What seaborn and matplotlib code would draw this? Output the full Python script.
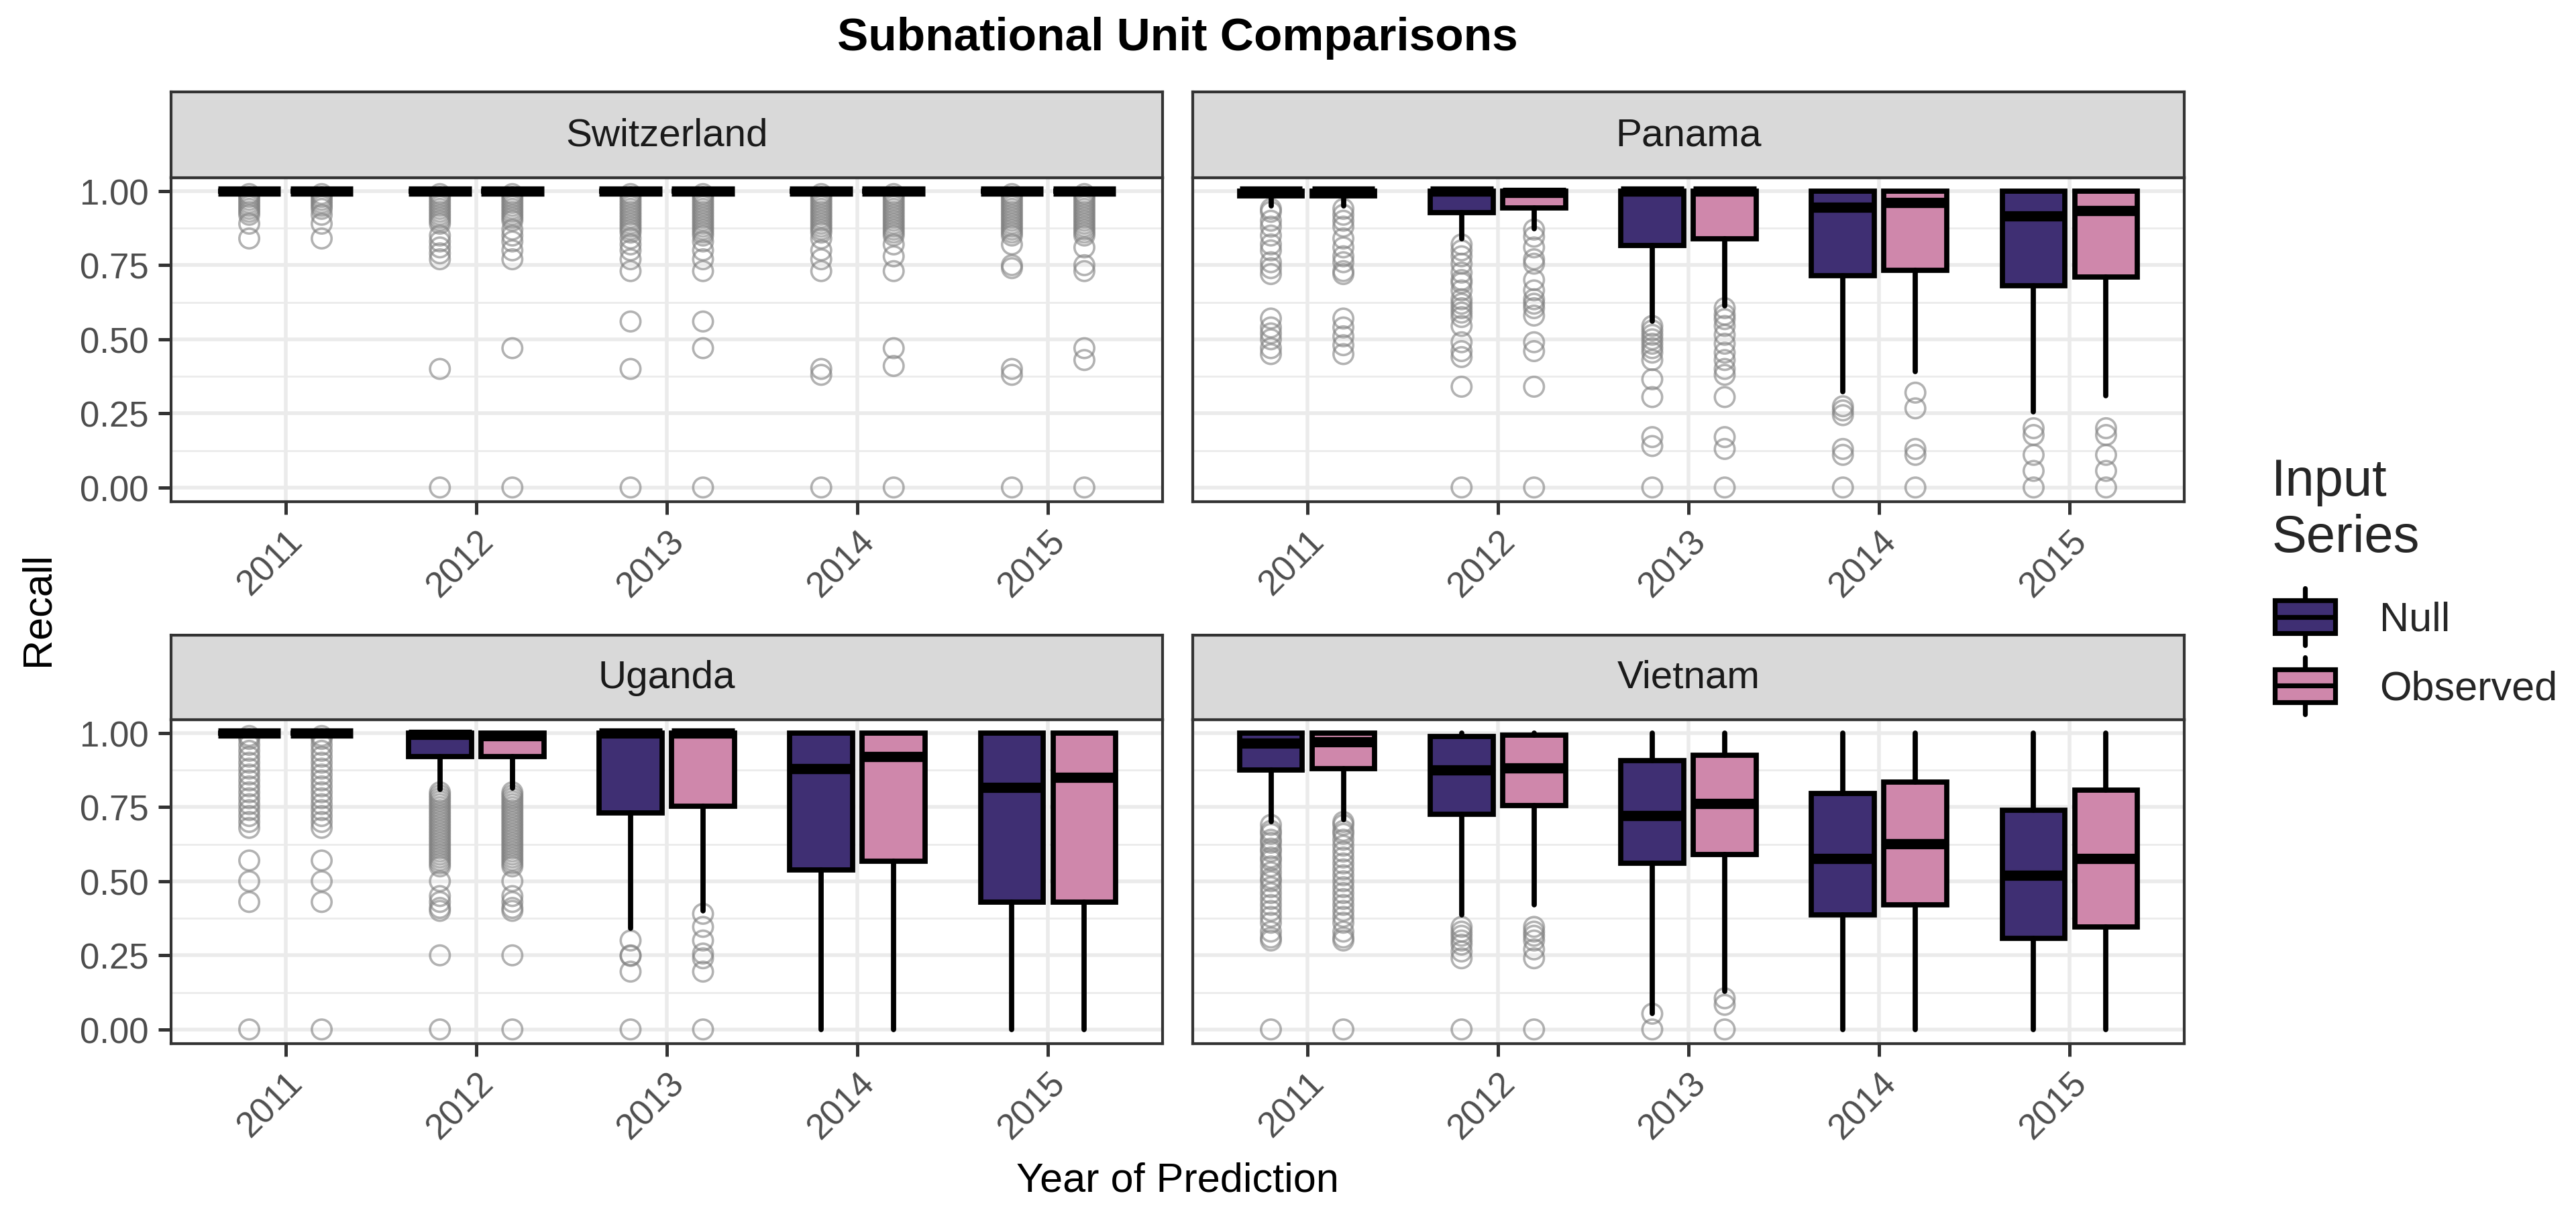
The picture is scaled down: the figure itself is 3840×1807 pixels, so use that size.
import matplotlib
matplotlib.use("Agg")
import matplotlib.pyplot as plt
import numpy as np
import pandas as pd
import seaborn as sns
from matplotlib.legend_handler import HandlerBase
from matplotlib.lines import Line2D
from matplotlib.patches import Patch, Rectangle

years = ["2011", "2012", "2013", "2014", "2015"]
countries = ["Switzerland", "Panama", "Uganda", "Vietnam"]
series = ["Null", "Observed"]
colors = {"Null": "#3F2F73", "Observed": "#CF87AB"}

# box summaries: lower whisker, q1, median, q3, upper whisker
swi_null = dict(lo=[1, 1, 1, 1, 1], q1=[1, 1, 1, 1, 1], med=[1, 1, 1, 1, 1],
                q3=[1, 1, 1, 1, 1], hi=[1, 1, 1, 1, 1])
swi_obs = dict(lo=[1, 1, 1, 1, 1], q1=[1, 1, 1, 1, 1], med=[1, 1, 1, 1, 1],
               q3=[1, 1, 1, 1, 1], hi=[1, 1, 1, 1, 1])
pan_null = dict(lo=[0.951, 0.838, 0.56, 0.323, 0.256], q1=[0.985, 0.928, 0.816, 0.714, 0.68],
                med=[1.0, 1.0, 1.0, 0.945, 0.915], q3=[1, 1, 1, 1, 1], hi=[1, 1, 1, 1, 1])
pan_obs = dict(lo=[0.951, 0.872, 0.613, 0.39, 0.31], q1=[0.985, 0.944, 0.838, 0.733, 0.71],
               med=[1.0, 0.995, 1.0, 0.962, 0.934], q3=[1, 1, 1, 1, 1], hi=[1, 1, 1, 1, 1])
uga_null = dict(lo=[1.0, 0.81, 0.342, 0.0, 0.0], q1=[1.0, 0.92, 0.73, 0.538, 0.43],
                med=[1.0, 0.995, 1.0, 0.88, 0.816], q3=[1, 1, 1, 1, 1], hi=[1, 1, 1, 1, 1])
uga_obs = dict(lo=[1.0, 0.815, 0.40, 0.0, 0.0], q1=[1.0, 0.92, 0.752, 0.568, 0.43],
               med=[1.0, 0.99, 1.0, 0.92, 0.85], q3=[1, 1, 1, 1, 1], hi=[1, 1, 1, 1, 1])
vie_null = dict(lo=[0.70, 0.387, 0.053, 0.0, 0.0], q1=[0.876, 0.725, 0.56, 0.387, 0.308],
                med=[0.966, 0.875, 0.722, 0.577, 0.519], q3=[1.0, 0.989, 0.908, 0.797, 0.74],
                hi=[1, 1, 1, 1, 1])
vie_obs = dict(lo=[0.707, 0.42, 0.128, 0.0, 0.0], q1=[0.88, 0.755, 0.59, 0.42, 0.346],
               med=[0.97, 0.883, 0.763, 0.626, 0.577], q3=[1.0, 0.992, 0.925, 0.835, 0.808],
               hi=[1, 1, 1, 1, 1])

dense = [0.99, 0.98, 0.97, 0.96, 0.95, 0.94, 0.93, 0.92, 0.91, 0.90, 0.89, 0.88, 0.87, 0.86]

# outliers per year
swi_null_out = [
    [0.99, 0.98, 0.97, 0.96, 0.95, 0.94, 0.93, 0.92, 0.89, 0.84],
    dense[:11] + [0.85, 0.83, 0.81, 0.79, 0.77, 0.40, 0.0],
    dense + [0.84, 0.82, 0.80, 0.77, 0.73, 0.56, 0.40, 0.0],
    dense + [0.84, 0.80, 0.77, 0.73, 0.40, 0.38, 0.0],
    dense + [0.85, 0.82, 0.75, 0.74, 0.40, 0.38, 0.0],
]
swi_obs_out = [
    [0.99, 0.98, 0.97, 0.96, 0.95, 0.94, 0.92, 0.89, 0.84],
    dense[:10] + [0.87, 0.85, 0.83, 0.80, 0.77, 0.47, 0.0],
    dense + [0.85, 0.83, 0.80, 0.77, 0.73, 0.56, 0.47, 0.0],
    dense + [0.85, 0.82, 0.78, 0.73, 0.47, 0.41, 0.0],
    dense + [0.85, 0.81, 0.75, 0.73, 0.47, 0.43, 0.0],
]
pan_null_out = [
    [0.94, 0.93, 0.90, 0.88, 0.85, 0.82, 0.80, 0.76, 0.74, 0.72, 0.57, 0.54, 0.52, 0.50, 0.47, 0.45],
    [0.82, 0.80, 0.78, 0.755, 0.725, 0.70, 0.69, 0.665, 0.635, 0.62, 0.605, 0.59, 0.575, 0.545,
     0.49, 0.46, 0.44, 0.34, 0.0],
    [0.545, 0.53, 0.515, 0.50, 0.485, 0.47, 0.455, 0.43, 0.365, 0.305, 0.17, 0.14, 0.0],
    [0.274, 0.26, 0.244, 0.13, 0.11, 0.0],
    [0.2, 0.177, 0.11, 0.056, 0.0],
]
pan_obs_out = [
    [0.94, 0.92, 0.90, 0.88, 0.84, 0.81, 0.78, 0.76, 0.73, 0.72, 0.57, 0.54, 0.51, 0.48, 0.45],
    [0.87, 0.846, 0.81, 0.77, 0.755, 0.70, 0.665, 0.635, 0.62, 0.605, 0.58, 0.49, 0.46, 0.34, 0.0],
    [0.605, 0.583, 0.568, 0.545, 0.515, 0.485, 0.455, 0.43, 0.40, 0.38, 0.305, 0.17, 0.13, 0.0],
    [0.32, 0.267, 0.13, 0.11, 0.0],
    [0.2, 0.177, 0.11, 0.056, 0.0],
]
uga_2011 = [0.99, 0.98, 0.96, 0.94, 0.92, 0.90, 0.88, 0.86, 0.84, 0.82, 0.80, 0.78, 0.76,
            0.74, 0.72, 0.70, 0.68, 0.57, 0.50, 0.43, 0.0]
uga_2012 = [0.80, 0.79, 0.78, 0.77, 0.76, 0.75, 0.74, 0.73, 0.72, 0.71, 0.70, 0.69, 0.68, 0.67,
            0.66, 0.65, 0.64, 0.63, 0.62, 0.61, 0.60, 0.59, 0.58, 0.57, 0.56, 0.55, 0.50, 0.45,
            0.43, 0.41, 0.40, 0.25, 0.0]
uga_null_out = [uga_2011, uga_2012, [0.30, 0.25, 0.248, 0.195, 0.0], [], []]
uga_obs_out = [uga_2011, uga_2012, [0.39, 0.346, 0.30, 0.256, 0.24, 0.195, 0.0], [], []]
vie_null_out = [
    [0.69, 0.67, 0.66, 0.64, 0.63, 0.61, 0.60, 0.58, 0.57, 0.55, 0.53, 0.51, 0.50, 0.48, 0.46,
     0.44, 0.42, 0.40, 0.38, 0.36, 0.33, 0.31, 0.30, 0.0],
    [0.346, 0.33, 0.316, 0.30, 0.286, 0.263, 0.24, 0.0],
    [0.053, 0.0],
    [], [],
]
vie_obs_out = [
    [0.70, 0.69, 0.67, 0.66, 0.64, 0.62, 0.60, 0.58, 0.56, 0.54, 0.52, 0.50, 0.48, 0.46, 0.44,
     0.42, 0.40, 0.38, 0.36, 0.33, 0.31, 0.30, 0.0],
    [0.346, 0.33, 0.316, 0.30, 0.27, 0.24, 0.0],
    [0.105, 0.083, 0.0],
    [], [],
]

boxes = {"Switzerland": (swi_null, swi_obs), "Panama": (pan_null, pan_obs),
         "Uganda": (uga_null, uga_obs), "Vietnam": (vie_null, vie_obs)}
outs = {"Switzerland": (swi_null_out, swi_obs_out), "Panama": (pan_null_out, pan_obs_out),
        "Uganda": (uga_null_out, uga_obs_out), "Vietnam": (vie_null_out, vie_obs_out)}

sns.set_theme(style="white")
plt.rcParams["font.family"] = ["Liberation Sans", "DejaVu Sans"]

W, H = 3840, 1808


def rect(l, t, r, b):
    return [l / W, 1 - b / H, (r - l) / W, (b - t) / H]


panel_px = [(255, 266, 1733, 749), (1778, 266, 3256, 749),
            (255, 1074, 1733, 1557), (1778, 1074, 3256, 1557)]
strip_px = [(255, 138, 1733, 266), (1778, 138, 3256, 266),
            (255, 948, 1733, 1074), (1778, 948, 3256, 1074)]

fig = plt.figure(figsize=(W / 200, H / 200), dpi=200)
fig.patch.set_facecolor("white")

offsets = {"Null": -0.19, "Observed": 0.19}
xpos = np.arange(1, len(years) + 1)

for k, country in enumerate(countries):
    ax = fig.add_axes(rect(*panel_px[k]))
    ax.set_facecolor("white")
    for s, stats_src, out_src in zip(series, boxes[country], outs[country]):
        stats = [dict(whislo=stats_src["lo"][i], q1=stats_src["q1"][i], med=stats_src["med"][i],
                      q3=stats_src["q3"][i], whishi=stats_src["hi"][i], fliers=[])
                 for i in range(len(years))]
        ax.bxp(stats, positions=xpos + offsets[s], widths=0.33, patch_artist=True,
               showcaps=False, showfliers=False, manage_ticks=False,
               boxprops=dict(facecolor=colors[s], edgecolor="black", linewidth=2.8),
               medianprops=dict(color="black", linewidth=5.5, solid_capstyle="butt"),
               whiskerprops=dict(color="black", linewidth=2.8), zorder=3)
        px, py = [], []
        for i, vals in enumerate(out_src):
            px += [xpos[i] + offsets[s]] * len(vals)
            py += vals
        pts = pd.DataFrame({"x": px, "y": py})
        sns.scatterplot(data=pts, x="x", y="y", ax=ax, marker="o", s=112,
                        facecolor="none", edgecolor=(0.5, 0.5, 0.5, 0.6),
                        linewidth=1.3, legend=False, zorder=2)
    ax.set_xlim(0.4, 5.6)
    ax.set_ylim(-0.048, 1.045)
    ax.set_xticks(xpos)
    ax.set_xticklabels(years, rotation=45, ha="right", va="top", rotation_mode="anchor")
    ax.set_yticks([0, 0.25, 0.5, 0.75, 1.0])
    ax.set_yticklabels(["0.00", "0.25", "0.50", "0.75", "1.00"])
    ax.set_yticks([0.125, 0.375, 0.625, 0.875], minor=True)
    ax.set_axisbelow(True)
    ax.grid(which="major", color="#EBEBEB", linewidth=2.0)
    ax.grid(which="minor", axis="y", color="#EBEBEB", linewidth=1.0)
    ax.set_xlabel("")
    ax.set_ylabel("")
    for sp in ax.spines.values():
        sp.set_color("#333333")
        sp.set_linewidth(1.5)
    ax.tick_params(axis="both", which="major", direction="out", length=7, width=1.8,
                   color="#333333", labelcolor="#4D4D4D", labelsize=19, pad=5,
                   bottom=True, left=(k % 2 == 0), labelleft=(k % 2 == 0))
    ax.tick_params(which="minor", left=False, bottom=False)

    sax = fig.add_axes(rect(*strip_px[k]))
    sax.set_facecolor("#D9D9D9")
    sax.set_xticks([])
    sax.set_yticks([])
    for sp in sax.spines.values():
        sp.set_color("#333333")
        sp.set_linewidth(1.5)
    sax.text(0.5, 0.5, country, transform=sax.transAxes, ha="center", va="center",
             fontsize=21, color="#1A1A1A")

fig.text(1755 / W, 1 - 57 / H, "Subnational Unit Comparisons", ha="center", va="center",
         fontsize=25, fontweight="bold", color="black")
fig.text(1755 / W, 1 - 1777 / H, "Year of Prediction", ha="center", va="baseline",
         fontsize=22, color="black")
fig.text(57 / W, 1 - 908 / H, "Recall", ha="center", va="center", rotation=90,
         fontsize=22, color="black")


class BoxKey(HandlerBase):
    def create_artists(self, legend, orig, xdescent, ydescent, width, height, fontsize, trans):
        x0, y0 = -xdescent, -ydescent
        cx = x0 + width / 2
        blo, bhi = y0 + 0.21 * height, y0 + 0.79 * height
        wlo = Line2D([cx, cx], [y0, blo], color="black", lw=2.6, transform=trans)
        whi = Line2D([cx, cx], [bhi, y0 + height], color="black", lw=2.6, transform=trans)
        box = Rectangle((x0 + 0.05 * width, blo), 0.9 * width, bhi - blo,
                        facecolor=orig.get_facecolor(), edgecolor="black", lw=2.6,
                        transform=trans)
        med = Line2D([x0 + 0.05 * width, x0 + 0.95 * width], [y0 + height / 2] * 2,
                     color="black", lw=2.6, transform=trans)
        return [wlo, whi, box, med]


handles = [Patch(facecolor=colors[s], label=s) for s in series]
leg = fig.legend(handles=handles, handler_map={Patch: BoxKey()}, title="Input\nSeries",
                 loc="upper left", bbox_to_anchor=(3386 / W, 1 - 682 / H),
                 frameon=False, fontsize=22, title_fontsize=28, handlelength=1.64,
                 handleheight=1.75, labelspacing=0.3, handletextpad=1.0, borderpad=0,
                 borderaxespad=0, alignment="left")
leg._legend_box.sep = 14

fig.savefig("out.png", dpi=200, facecolor="white")
